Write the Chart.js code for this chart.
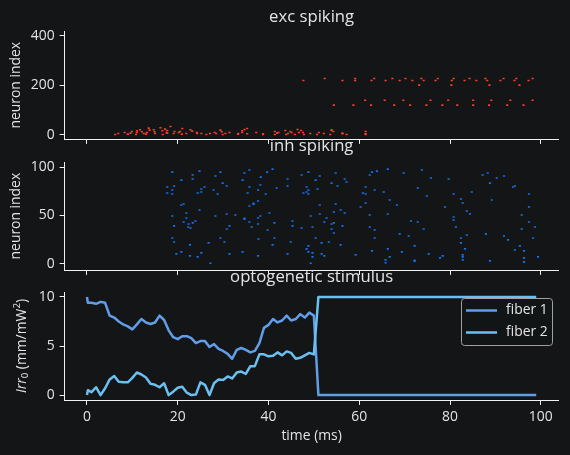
<!DOCTYPE html>
<html>
<head>
<meta charset="utf-8">
<script src="https://cdn.jsdelivr.net/npm/chart.js@4"></script>
<style>
  html, body { margin: 0; padding: 0; background: #131517; }
  #wrap { position: relative; width: 570px; height: 455px; overflow: hidden; }
  canvas { position: absolute; left: 0; }
</style>
</head>
<body>
<div id="wrap">
  <canvas id="exc" width="570" height="160" style="top:0px"></canvas>
  <canvas id="inh" width="570" height="160" style="top:130px"></canvas>
  <canvas id="opto" width="570" height="195" style="top:260px"></canvas>
</div>
<script>
// tick labels
const timeTicks = [0, 20, 40, 60, 80, 100];
const excTicks  = [0, 200, 400];
const inhTicks  = [0, 50, 100];
const irrTicks  = [0, 5, 10];

// exc spikes: [time (ms), neuron index]
const excSpikes = [
  [6.2,1.5],[6.9,5.5],[8.3,9.6],[9.0,2.8],[9.6,6.9],[9.9,13.6],[10.8,1.5],[11.0,9.6],[11.0,16.3],[11.7,20.3],
  [12.1,12.3],[12.5,5.5],[13.0,2.8],[13.2,9.6],[13.6,27],[13.8,19],[14.7,20.3],[14.9,12.3],[15.0,5.5],[16.2,28.4],
  [16.6,16.3],[16.7,1.5],[17.2,23],[17.5,9.6],[17.7,17.6],[17.7,6.9],[18.4,33.8],[19.1,5.5],[19.3,13.6],[20.2,9.6],
  [20.5,13.6],[21.0,25.7],[20.9,2.8],[21.9,5.5],[22.8,20.3],[23.2,15],[24.2,9.6],[24.3,5.5],[25.2,5.5],[26.3,1.5],
  [27.1,5.5],[28.1,9.6],[28.5,5.5],[29.4,19],[29.7,12.3],[29.9,1.5],[30.5,5.5],[31.4,9.6],
  [33.3,5],[33.3,2],[34.2,16.3],[34.2,9.6],[34.7,21.7],[35.3,25.7],[35.3,4.2],[37.3,9.6],[38.8,4.2],[38.8,1.5],
  [41.4,13.6],[41.4,1.5],[41.9,6.9],[42.2,9.6],[43.7,17.6],[43.9,1.5],[44.3,5.5],[44.8,13.6],[45.1,9.6],[45.8,1.5],
  [46.4,21.7],[46.7,9.6],[47.2,17.6],[47.6,9.6],[47.8,1.5],[49.2,5.5],[50.7,1.5],[51.1,9.6],[52.2,5.5],[53.6,1.5],
  [53.9,20.3],[53.9,17.6],[54.3,13.6],[56.3,6.9],[56.3,4.2],[57.2,1.5],[61.4,13.6],[61.4,4.2],[61.4,1.5],
  // upper rows after the switch
  [52.4,228],[59.1,228],[63.3,228],[67.3,228],[70.2,228],[73.7,228],[77.3,228],[80.8,228],[84.3,228],[87.8,228],
  [91.8,228],[94.6,228],[98.2,228],
  [47.7,220],[56.3,220],[59.1,220],[62.7,220],[65.8,220],[68.9,220],[71.7,220],[74.2,220],[76.8,220],[80.4,220],
  [83.2,220],[85.8,220],[88.2,220],[91.1,220],[94.2,220],[97.3,220],
  [73.2,201],[80.3,201],[88.7,201],[95.3,201],
  [61.3,140],[65.6,140],[69.7,140],[75.7,140],[79.6,140],[85.1,140],[89.1,140],[93.3,140],[98.2,140],
  [54.4,120],[58.7,120],[62.6,120],[67.7,120],[71.2,120],[74.8,120],[78.3,120],[81.6,120],[85.1,120],[88.6,120],
  [92.6,120],[96.2,120]
];

// inh spikes: [time (ms), neuron index]
const inhSpikes = [
  [40.9,98.1],[24.8,96.0],[35.8,97.1],[18.8,95.0],[29.4,95.0],[34.7,94.0],[39.7,95.0],[48.8,95.0],[23.3,91.9],[28.3,90.9],
  [38.3,89.8],[47.3,91.9],[51.3,90.9],[54.8,94.0],[20.8,86.7],[23.3,87.8],[34.3,86.7],[44.2,87.8],[50.4,86.7],[56.8,87.8],
  [57.2,84.7],[29.9,83.6],[53.9,83.6],[38.2,81.6],[19.2,80.5],[30.8,80.5],[44.2,80.5],[55.2,80.5],[17.7,79.5],[25.9,79.5],
  [35.8,79.5],[48.4,79.5],[41.8,78.5],[25.2,77.4],[18.8,76.4],[27.9,76.4],[37.7,76.4],[48.8,76.4],[50.8,77.4],[35.4,73.3],
  [17.7,73.3],[24.4,73.3],[25.2,74.3],[47.7,73.3],[48.4,74.3],[18.8,72.3],[28.8,72.3],[39.4,72.3],[48.8,72.3],[37.7,65.0],
  [21.3,61.9],[20.8,60.9],[36.7,61.6],[36.7,62.6],[35.8,59.8],[51.3,60.9],[54.8,61.9],[24.8,55.7],[55.9,55.7],[54.4,53.6],
  [56.8,52.6],[21.9,52.6],[30.8,51.6],[32.7,50.5],[40.2,52.6],[51.3,51.6],[18.8,49.5],[28.3,49.5],[38.2,49.5],[49.3,49.5],
  [21.9,47.4],[37.7,47.4],[52.8,47.4],[34.7,46.1],[34.7,47.1],[23.9,44.3],[21.3,43.3],[35.8,43.3],[52.3,43.3],[45.3,44.3],
  [22.4,41.2],[23.3,42.3],[37.7,41.2],[41.3,42.3],[53.9,41.2],[54.4,42.3],[19.2,39.2],[31.4,39.2],[22.3,38.1],[22.8,37.1],
  [36.3,38.1],[45.3,39.2],[49.7,38.1],[56.3,39.2],[47.3,37.1],[30.8,36.0],[39.8,35.0],[53.9,36.0],[54.4,31.9],[18.8,26.7],
  [29.4,26.7],[37.8,25.7],[41.3,26.7],[50.4,26.7],[19.2,22.6],[30.3,22.6],[26.8,21.6],[44.9,22.6],[51.7,21.6],[53.3,22.6],
  [22.7,19.5],[40.9,19.5],[55.9,19.5],[48.8,18.5],[48.4,15.4],[20.8,12.3],[34.3,12.3],[25.2,11.2],[48.8,12.3],[49.7,11.2],
  [19.7,10.2],[31.4,10.2],[44.2,10.2],[51.7,10.2],[22.7,8.1],[24.4,7.1],[37.7,8.1],[49.7,7.1],[52.3,8.1],[27.2,0.5],
  [49.3,0.5],
  [66.3,98.1],[73.8,97.1],[63.9,96.0],[62.8,95.0],[69.8,94.0],[62.3,91.9],[75.8,88.8],[79.7,87.8],[61.4,79.5],[72.9,78.5],
  [63.4,76.4],[65.4,74.3],[60.8,73.3],[61.4,72.3],[80.8,72.3],[74.9,70.2],[66.7,66.0],[68.3,60.9],[61.4,62.9],[60.3,58.8],
  [78.9,58.8],[66.3,51.6],[62.3,50.5],[80.8,48.5],[80.8,45.4],[71.4,44.3],[72.9,43.3],[74.2,36.0],[62.3,38.1],[63.4,35.0],
  [68.9,30.9],[70.9,28.8],[63.4,26.7],[72.2,18.5],[66.3,15.4],[62.8,13.3],[69.4,12.3],[75.3,10.2],[59.2,9.2],[78.4,8.1],
  [66.7,7.1],[77.8,6.1],[65.8,4.0],[72.2,2.6],[72.2,3.6],[65.8,1.0],
  [88.3,94.0],[87.2,91.9],[90.3,88.8],[91.9,90.9],[88.8,83.6],[94.3,80.5],[93.9,79.5],[84.8,74.3],[97.4,72.3],[82.4,67.1],
  [89.2,66.0],[82.8,62.9],[97.4,58.8],[83.7,54.7],[84.4,51.6],[95.8,50.5],[81.3,38.1],[97.4,43.3],[98.7,38.1],[95.8,36.0],
  [87.9,30.9],[83.7,29.8],[91.9,28.8],[82.4,26.7],[98.3,26.7],[92.8,24.7],[82.4,21.6],[95.4,18.5],[83.3,15.4],[94.3,14.3],
  [96.3,13.3],[99.4,7.1],[82.8,9.2],[82.8,7.1],[96.3,6.1],[82.8,4.0],[88.8,3.0],[96.3,1.9]
];

// optogenetic stimulus, Irr0 (mm/mW^2) per fiber
const stimT = [0, 0.2,
  1, 2, 3, 4, 5, 6, 7, 8, 9, 10,
  11, 12, 13, 14, 15, 16, 17, 18, 19, 20,
  21, 22, 23, 24, 25, 26, 27, 28, 29, 30,
  31, 32, 33, 34, 35, 36, 37, 38, 39, 40,
  41, 42, 43, 44, 45, 46, 47, 48, 49, 50,
  51, 99];
const fiber1 = [10, 9.4,
  9.4, 9.3, 9.5, 9.4, 8.1, 7.9, 7.5, 7.2, 7.0, 6.7,
  7.2, 7.75, 7.4, 7.25, 7.4, 8.1, 7.65, 6.6, 5.9, 5.7,
  6.0, 6.0, 5.8, 5.3, 5.5, 5.5, 4.9, 5.2, 4.7, 4.5,
  4.2, 3.7, 4.6, 4.8, 4.6, 4.35, 4.5, 5.3, 6.85, 7.15,
  7.75, 7.4, 7.6, 8.1, 7.6, 7.75, 8.25, 7.9, 8.4, 8.1,
  0, 0];
const fiber2 = [0, 0.5,
  0.3, 0.8, 0, 0.7, 1.6, 1.95, 1.35, 1.3, 1.3, 1.75,
  2.3, 2.1, 1.8, 1.15, 1.05, 0.8, 1.2, 0, 0.35, 0.75,
  0.85, 0.25, 0, 0.05, 1.3, 1.05, 0, 1.2, 1.6, 1.55,
  1.9, 1.7, 2.3, 2.4, 2.15, 2.95, 2.95, 4.15, 4.15, 3.95,
  4.0, 4.35, 4.05, 4.45, 4.3, 3.7, 3.8, 4.05, 4.3, 4.15,
  10, 10];

const fg     = "#e4e4e4";
const spine  = "#f2f2f2";
const red    = "#f53f28";
const blue   = "#1470ea";
const f1col  = "#629de8";
const f2col  = "#6cc0f0";
const family = "'Open Sans', 'Noto Sans', sans-serif";
const tickFont  = { family, size: 13.9 };
const titleFont = { family, size: 16.7, weight: "normal" };

const spikes = (list, color) => ({
  data: list.map(([t, n]) => ({ x: t, y: n })),
  pointStyle: "line", pointRadius: 1.1, pointBorderWidth: 1.6,
  borderColor: color, backgroundColor: color, pointBorderColor: color
});

const series = (label, ys, color, order) => ({
  label, order,
  data: stimT.map((t, i) => ({ x: t, y: ys[i] })),
  borderColor: color, borderWidth: 2.5, pointRadius: 0, tension: 0,
  borderJoinStyle: "round", fill: false
});

// y label with italic Irr, subscript 0 and superscript 2
const irrLabel = {
  id: "irrLabel",
  afterDraw(chart) {
    const { ctx, chartArea } = chart;
    const parts = [
      { t: "Irr", f: `italic 13.9px ${family}`, dy: 0 },
      { t: "0", f: `9.7px ${family}`, dy: 3.5 },
      { t: " (mm/mW", f: `13.9px ${family}`, dy: 0 },
      { t: "2", f: `9.7px ${family}`, dy: -4.5 },
      { t: ")", f: `13.9px ${family}`, dy: 0 }
    ];
    ctx.save();
    let total = 0;
    parts.forEach(p => { ctx.font = p.f; p.w = ctx.measureText(p.t).width; total += p.w; });
    ctx.translate(21.8, (chartArea.top + chartArea.bottom) / 2);
    ctx.rotate(-Math.PI / 2);
    ctx.fillStyle = fg;
    ctx.textBaseline = "middle";
    let x = -total / 2;
    parts.forEach(p => { ctx.font = p.f; ctx.fillText(p.t, x, p.dy); x += p.w; });
    ctx.restore();
  }
};

const legendBox = {
  id: "legendBox",
  afterDraw(chart) {
    const { ctx } = chart;
    ctx.save();
    ctx.beginPath();
    ctx.roundRect(461.5, 38.5, 91, 47, 3);
    ctx.fillStyle = "rgba(19,21,23,0.8)";
    ctx.fill();
    ctx.strokeStyle = "#a0a0a0";
    ctx.lineWidth = 1;
    ctx.stroke();
    chart.data.datasets.forEach((ds, i) => {
      const y = 50.5 + i * 22;
      ctx.beginPath();
      ctx.moveTo(466, y);
      ctx.lineTo(497, y);
      ctx.strokeStyle = ds.borderColor;
      ctx.lineWidth = 2.5;
      ctx.stroke();
      ctx.fillStyle = fg;
      ctx.font = `13.9px ${family}`;
      ctx.textBaseline = "middle";
      ctx.fillText(ds.label, 506, y);
    });
    ctx.restore();
  }
};

function panel(id, o) {
  const tickGrid = { drawOnChartArea: false, color: spine, tickLength: 4.9, tickWidth: 1 };
  return new Chart(document.getElementById(id), {
    type: o.type,
    data: { datasets: o.datasets },
    options: {
      responsive: false, animation: false, events: [],
      layout: { padding: { left: 0, right: 11.3, top: 0, bottom: 0 } },
      plugins: {
        legend: { display: false },
        tooltip: { enabled: false },
        title: {
          display: true, text: o.title, color: fg, font: titleFont, fullSize: false,
          padding: { top: o.tp, bottom: o.tb }
        }
      },
      scales: {
        x: {
          type: "linear", min: -4.95, max: 103.95,
          afterBuildTicks: s => { s.ticks = timeTicks.map(v => ({ value: v })); },
          afterFit: s => { s.height = o.xh; },
          ticks: { color: fg, font: tickFont, padding: 3.6, maxRotation: 0, autoSkip: false,
                   callback: v => o.xTitle ? String(v) : "" },
          grid: tickGrid,
          border: { color: spine, width: 1 },
          title: { display: !!o.xTitle, text: o.xTitle || "", color: fg, font: tickFont,
                   padding: { top: 0, bottom: 11 } }
        },
        y: {
          type: "linear", min: o.yMin, max: o.yMax,
          afterBuildTicks: s => { s.ticks = o.yTicks.map(v => ({ value: v })); },
          afterFit: s => { s.width = 64.5; },
          ticks: { color: fg, font: tickFont, padding: 4.9, autoSkip: false },
          grid: tickGrid,
          border: { color: spine, width: 1 },
          title: { display: !!o.yTitle, text: o.yTitle || "", color: fg, font: tickFont,
                   padding: { top: 7.7, bottom: 0 } }
        }
      }
    },
    plugins: o.plugins || []
  });
}

panel("exc", {
  type: "scatter", title: "exc spiking", tp: 7, tb: 4.5, xh: 21,
  yMin: -17, yMax: 418, yTicks: excTicks, yTitle: "neuron index",
  datasets: [spikes(excSpikes, red)]
});

panel("inh", {
  type: "scatter", title: "inh spiking", tp: 6.7, tb: 5.5, xh: 20,
  yMin: -6.5, yMax: 105.2, yTicks: inhTicks, yTitle: "neuron index",
  datasets: [spikes(inhSpikes, blue)]
});

panel("opto", {
  type: "line", title: "optogenetic stimulus", tp: 7.3, tb: 4.7, xh: 55,
  yMin: -0.5, yMax: 10.5, yTicks: irrTicks, xTitle: "time (ms)",
  datasets: [series("fiber 1", fiber1, f1col, 1), series("fiber 2", fiber2, f2col, 0)],
  plugins: [irrLabel, legendBox]
});
</script>
</body>
</html>
